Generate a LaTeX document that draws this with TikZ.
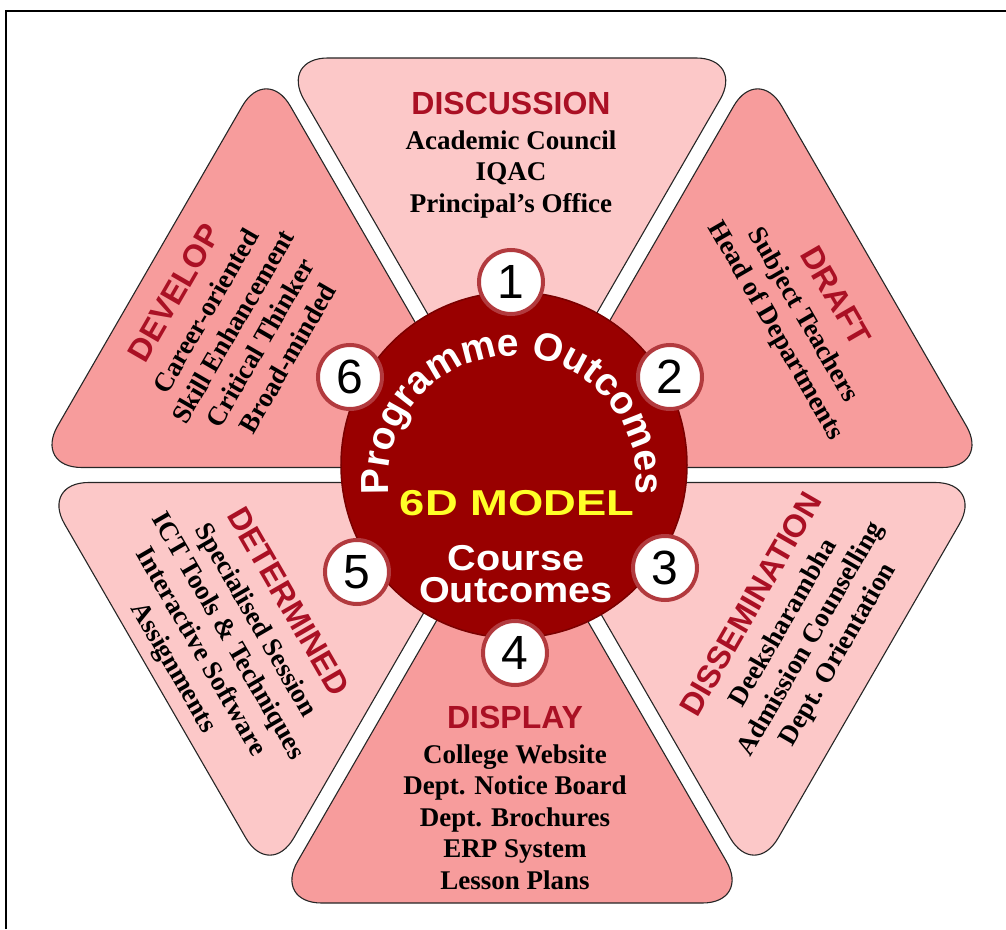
\documentclass[tikz,border=0pt]{standalone}
\usepackage{fontspec}
\setmainfont{Liberation Serif}
\setsansfont{Liberation Sans}
\usepackage{graphicx}
\usetikzlibrary{decorations.text}
\definecolor{petalA}{RGB}{252,200,200}
\definecolor{petalB}{RGB}{247,156,156}
\definecolor{hub}{RGB}{153,0,0}
\definecolor{ring}{RGB}{178,58,62}
\definecolor{ttlred}{RGB}{170,16,36}
\definecolor{sixd}{RGB}{255,255,40}
\newcommand{\ttl}{\fontsize{32}{32}\selectfont\sffamily\bfseries\color{ttlred}}

\begin{document}
\begin{tikzpicture}[x=1pt,y=1pt,
  petal/.style={draw=black!85,line width=1.1pt,rounded corners=48pt},
  txt/.style={align=center,font=\fontsize{27}{31.5}\selectfont\bfseries},
  num/.style={circle,draw=ring,fill=white,line width=4pt,minimum size=64pt,inner sep=0pt,font=\fontsize{48}{48}\selectfont\sffamily},
  hubtxt/.style={text=white,align=center,font=\fontsize{36}{32}\selectfont\sffamily\bfseries}]
\useasboundingbox (-512,-454) rectangle (494,475);
\draw[line width=2pt] (-506,-454) -- (-506,464) -- (494,464);
\foreach \a/\r/\c in {90/417/petalA,30/418/petalB,-30/412/petalA,-90/428/petalB,-150/412/petalA,150/418/petalB}
  \filldraw[petal,fill=\c,rotate=\a-90] (0,15) -- ({(\r-15)*tan(30)},\r) -- ({-(\r-15)*tan(30)},\r) -- cycle;
\node[circle,fill=hub,draw=hub!80!black,line width=1.5pt,minimum size=346pt] (hub) at (2,10) {};
\path[decorate,decoration={text along path,text align=center,text color=white,
  text={|\fontsize{39}{39}\selectfont\sffamily\bfseries|Programme Outcomes}}]
  (0,-5) ++(192:124) arc[start angle=192,end angle=-12,radius=124];
\node[text=sixd,font=\fontsize{36}{36}\selectfont\sffamily\bfseries] (model) at (5,-28) {\scalebox{1.26}[1]{6D MODEL}};
\node[hubtxt] (course) at (4,-99) {\scalebox{1.1}[1]{Course}\\\scalebox{1.1}[1]{Outcomes}};
\node[num] (n1) at (-1,193) {1};
\node[num] (n2) at (158,98) {2};
\node[num] (n3) at (153,-93) {3};
\node[num] (n4) at (3,-178) {4};
\node[num] (n5) at (-155,-97) {5};
\node[num] (n6) at (-162,98) {6};
\node[txt] (discussion) at (-1,320) {{\ttl DISCUSSION}\\[3pt]Academic Council\\IQAC\\Principal's Office};
\node[txt,rotate=-60] (draft) at (293,161) {{\ttl DRAFT}\\[3pt]Subject Teachers\\Head of Departments};
\node[txt,rotate=60] (dissemination) at (283,-155) {{\ttl DISSEMINATION}\\[3pt]Deeksharambha\\Admission Counselling\\Dept. Orientation};
\node[txt] (display) at (3,-323) {{\ttl DISPLAY}\\[3pt]College Website\\Dept. Notice Board\\Dept. Brochures\\ERP System\\Lesson Plans};
\node[txt,rotate=-60] (determined) at (-282,-160) {{\ttl DETERMINED}\\[3pt]Specialised Session\\ICT Tools \& Techniques\\Interactive Software\\Assignments};
\node[txt,rotate=60] (develop) at (-282,150) {{\ttl DEVELOP}\\[3pt]Career-oriented\\Skill Enhancement\\Critical Thinker\\Broad-minded};
\end{tikzpicture}
\end{document}
